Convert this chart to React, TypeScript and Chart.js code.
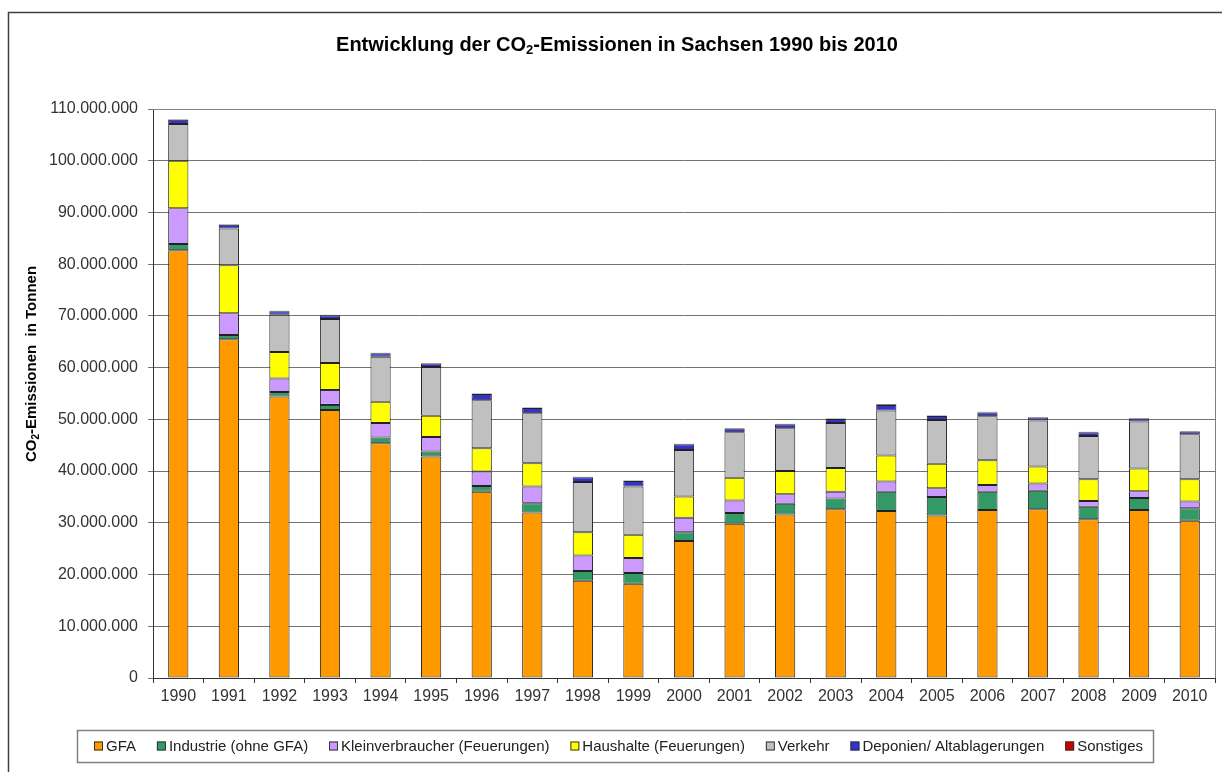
import React, { useEffect, useRef } from "react";
import { Chart, registerables } from "chart.js";

Chart.register(...registerables);

const years = ["1990","1991","1992","1993","1994","1995","1996","1997","1998","1999","2000","2001","2002","2003","2004","2005","2006","2007","2008","2009","2010"];

const gfa = [82.7,65.5,54.4,51.8,45.4,42.8,36.0,32.0,18.8,18.2,26.5,29.8,31.6,32.6,32.3,31.4,32.5,32.6,30.7,32.5,30.4];
const industrie = [1.2,0.8,0.9,1.0,1.1,1.0,1.1,1.8,1.9,2.1,1.7,2.1,2.1,2.1,3.7,3.6,3.5,3.6,2.4,2.3,2.4];
const kleinverbraucher = [6.9,4.2,2.6,2.9,2.8,2.8,2.8,3.2,3.0,2.9,2.8,2.4,1.8,1.3,2.0,1.7,1.3,1.4,1.1,1.3,1.3];
const haushalte = [9.2,9.3,5.1,5.2,4.1,4.1,4.5,4.5,4.5,4.5,4.1,4.4,4.5,4.6,5.0,4.7,4.8,3.3,4.2,4.4,4.3];
const verkehr = [7.1,7.1,7.2,8.5,8.7,9.4,9.3,9.7,9.7,9.3,9.0,8.8,8.3,8.7,8.7,8.5,8.5,8.9,8.4,9.1,8.7];
const deponien = [0.8,0.7,0.7,0.7,0.7,0.7,1.2,1.0,0.9,1.1,1.1,0.75,0.75,0.75,1.1,0.75,0.75,0.55,0.7,0.55,0.55];
const sonstiges = [0.1,0.1,0.1,0.1,0.1,0.1,0.1,0.1,0.1,0.1,0.1,0.1,0.1,0.1,0.1,0.1,0.1,0.1,0.1,0.1,0.1];

const seriesLabels = ["GFA","Industrie (ohne GFA)","Kleinverbraucher (Feuerungen)","Haushalte (Feuerungen)","Verkehr","Deponien/ Altablagerungen","Sonstiges"];
const seriesColors = ["#FF9900","#339966","#CC99FF","#FFFF00","#C0C0C0","#3333CC","#CC0000"];
const seriesValues = [gfa, industrie, kleinverbraucher, haushalte, verkehr, deponien, sonstiges];

const MIO = 1000000;

type Part = { t: string; sub?: boolean };

function drawParts(ctx: CanvasRenderingContext2D, parts: Part[], size: number, bold: boolean) {
  const fam = "Arial, 'Liberation Sans', sans-serif";
  const w = bold ? "bold " : "";
  const fonts = parts.map(p => `${w}${p.sub ? Math.round(size * 0.65) : size}px ${fam}`);
  const widths = parts.map((p, i) => { ctx.font = fonts[i]; return ctx.measureText(p.t).width; });
  const total = widths.reduce((a, b) => a + b, 0);
  let x = -total / 2;
  ctx.textBaseline = "middle";
  ctx.textAlign = "left";
  parts.forEach((p, i) => {
    ctx.font = fonts[i];
    ctx.fillText(p.t, x, p.sub ? size * 0.28 : 0);
    x += widths[i];
  });
}

const decoPlugin = {
  id: "deco",
  beforeDraw(chart: any) {
    const { ctx } = chart;
    ctx.save();
    ctx.fillStyle = "#ffffff";
    ctx.fillRect(0, 0, chart.width, chart.height);
    ctx.restore();
  },
  afterDraw(chart: any) {
    const { ctx, chartArea } = chart;
    ctx.save();
    // outer frame
    ctx.strokeStyle = "#404040";
    ctx.lineWidth = 1.5;
    ctx.beginPath();
    ctx.moveTo(8.5, chart.height);
    ctx.lineTo(8.5, 12.5);
    ctx.lineTo(chart.width, 12.5);
    ctx.stroke();

    // plot area border (top/right)
    ctx.strokeStyle = "#808080";
    ctx.lineWidth = 1;
    ctx.beginPath();
    ctx.moveTo(chartArea.left, chartArea.top + 0.5);
    ctx.lineTo(chartArea.right + 0.5, chartArea.top + 0.5);
    ctx.lineTo(chartArea.right + 0.5, chartArea.bottom);
    ctx.stroke();

    // title
    ctx.fillStyle = "#000000";
    ctx.save();
    ctx.translate(617, 45);
    drawParts(ctx, [{ t: "Entwicklung der CO" }, { t: "2", sub: true }, { t: "-Emissionen in Sachsen 1990 bis 2010" }], 20, true);
    ctx.restore();

    // y title
    ctx.save();
    ctx.translate(32, 364);
    ctx.rotate(-Math.PI / 2);
    drawParts(ctx, [{ t: "CO" }, { t: "2", sub: true }, { t: "-Emissionen  in Tonnen" }], 15, true);
    ctx.restore();

    // legend
    const fam = "Arial, 'Liberation Sans', sans-serif";
    const legLeft = 77, legRight = 1153, legTop = 730, legBottom = 762;
    ctx.fillStyle = "#ffffff";
    ctx.fillRect(legLeft, legTop, legRight - legLeft, legBottom - legTop);
    ctx.strokeStyle = "#808080";
    ctx.lineWidth = 1.5;
    ctx.strokeRect(legLeft + 0.5, legTop + 0.5, legRight - legLeft, legBottom - legTop);
    ctx.font = `15px ${fam}`;
    const box = 9, boxGap = 3;
    const datasets = chart.data.datasets;
    const tw = datasets.map((d: any) => ctx.measureText(d.label).width);
    const startX = 94, endX = 1143;
    const used = tw.reduce((a: number, b: number) => a + b, 0) + datasets.length * (box + boxGap);
    const gap = (endX - startX - used) / (datasets.length - 1);
    let x = startX;
    const cy = 746;
    ctx.textBaseline = "middle";
    ctx.textAlign = "left";
    datasets.forEach((d: any, i: number) => {
      ctx.fillStyle = d.backgroundColor;
      ctx.fillRect(x, cy - box / 2, box, box);
      ctx.strokeStyle = "#333333";
      ctx.lineWidth = 1;
      ctx.strokeRect(x + 0.5, cy - box / 2 + 0.5, box - 1, box - 1);
      x += box + boxGap;
      ctx.fillStyle = "#222222";
      ctx.fillText(d.label, x, cy + 1);
      x += tw[i] + gap;
    });
    ctx.restore();
  },
};

export default function App() {
  const ref = useRef<HTMLCanvasElement | null>(null);
  useEffect(() => {
    if (!ref.current) return;
    const chart = new Chart(ref.current, {
      type: "bar",
      data: {
        labels: years,
        datasets: seriesLabels.map((label, i) => ({
          label,
          data: seriesValues[i].map(v => v * MIO),
          backgroundColor: seriesColors[i],
          borderColor: "#222222",
          borderWidth: 1,
          borderSkipped: false,
          barPercentage: 0.4,
          categoryPercentage: 1,
        })),
      },
      options: {
        animation: false,
        responsive: true,
        maintainAspectRatio: false,
        layout: { padding: { top: 109, right: 7, bottom: 54, left: 0 } },
        plugins: {
          legend: { display: false },
          title: { display: false },
          tooltip: { enabled: false },
        },
        scales: {
          x: {
            stacked: true,
            grid: { display: true, drawOnChartArea: false, drawTicks: true, tickLength: 5, color: "#333333", offset: true },
            border: { display: true, color: "#333333", width: 1 },
            ticks: { color: "#333333", font: { family: "Arial, 'Liberation Sans', sans-serif", size: 16 }, padding: 4, maxRotation: 0, autoSkip: false },
            afterFit: (s: any) => { s.height = 40; },
          },
          y: {
            stacked: true,
            min: 0,
            max: 110 * MIO,
            grid: { color: "#737373", tickLength: 5, drawTicks: true },
            border: { display: true, color: "#333333", width: 1 },
            ticks: {
              stepSize: 10 * MIO,
              color: "#333333",
              padding: 10,
              font: { family: "Arial, 'Liberation Sans', sans-serif", size: 16 },
              callback: (v: any) => Number(v).toLocaleString("de-DE"),
            },
            afterFit: (s: any) => { s.width = 153; },
          },
        },
      },
      plugins: [decoPlugin],
    });
    return () => chart.destroy();
  }, []);
  return (
    <div style={{ position: "fixed", left: 0, top: 0, width: 1222, height: 772, background: "#fff" }}>
      <canvas ref={ref} />
    </div>
  );
}
